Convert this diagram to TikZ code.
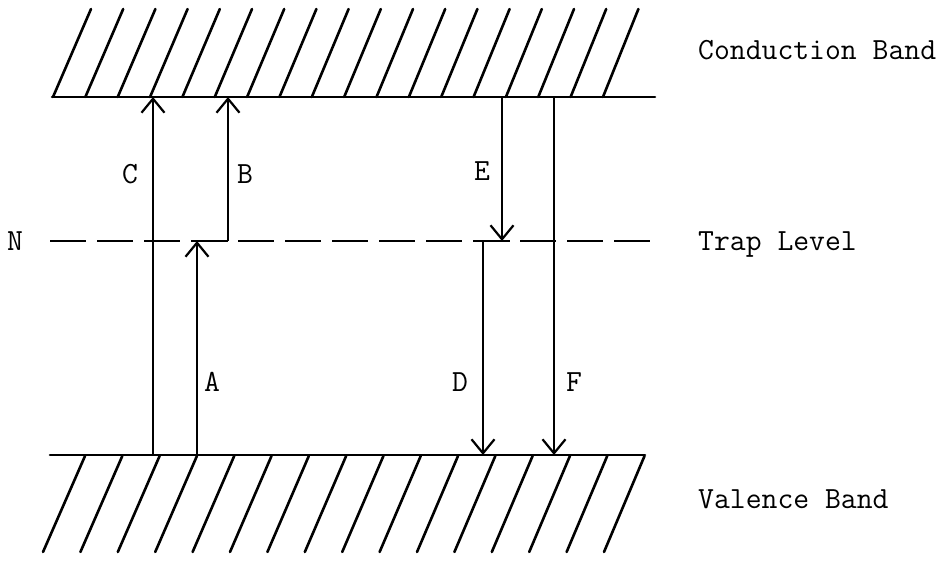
\documentclass[tikz,border=0pt]{standalone}
\usepackage{fontspec}
\usetikzlibrary{arrows.meta}
\newcommand{\twfont}{\ttfamily\fontsize{30.8}{34}\selectfont\addfontfeatures{FakeBold=0.6}}
\begin{document}
\begin{tikzpicture}[x=1pt,y=-1pt,
  band/.style={line width=2.6pt, line cap=round},
  hatch/.style={line width=2.6pt, line cap=round},
  trans/.style={line width=1.8pt, -{Straight Barb[length=14pt,width=23pt,line width=2.2pt]}},
  trapline/.style={line width=2.6pt, dash pattern=on 36pt off 11pt},
  lbl/.style={font=\twfont, inner sep=0pt, anchor=base west},
  letter/.style={font=\twfont, inner sep=0pt, anchor=base},
]
\useasboundingbox (0,0) rectangle (950,560);
% band edges
\coordinate (cbL) at (52,97);  \coordinate (cbR) at (655,97);
\coordinate (tpL) at (50,241); \coordinate (tpR) at (650,241);
\coordinate (vbL) at (50,455); \coordinate (vbR) at (645,455);
\draw[band] (cbL) -- (cbR);
\draw[band] (vbL) -- (vbR);
\draw[trapline] (tpL) -- (tpR);
% hatching
\foreach \i in {0,...,17} {
  \draw[hatch] ({53+32.35*\i},97) -- ({91+32.2*\i},9);
}
\foreach \i in {0,...,15} {
  \draw[hatch] ({85+37.3*\i},456) -- ({43+37.4*\i},552);
}
% transition end points
\coordinate (cBot) at (153,455); \coordinate (cTop) at (153,97);
\coordinate (aBot) at (197,455); \coordinate (aTop) at (197,241);
\coordinate (bL) at (193,241);   \coordinate (bFoot) at (228,241); \coordinate (bTop) at (228,97);
\coordinate (eTop) at (502,97);  \coordinate (eBot) at (502,241); \coordinate (eR) at (510,241);
\coordinate (dL) at (473,241);   \coordinate (dTop) at (483,241); \coordinate (dBot) at (483,455);
\coordinate (fTop) at (554,97);  \coordinate (fBot) at (554,455);
% solid pieces on trap level
\draw[line width=2.6pt] (bL) -- (bFoot);
\draw[line width=2.6pt] (dL) -- (eR);
% transitions
\draw[trans] (cBot) -- (cTop);
\draw[trans] (aBot) -- (aTop);
\draw[trans] (bFoot) -- (bTop);
\draw[trans] (eTop) -- (eBot);
\draw[trans] (dTop) -- (dBot);
\draw[trans] (fTop) -- (fBot);
% labels
\node[letter] (lC) at (130,183) {C};
\node[letter] (lB) at (245,183) {B};
\node[letter] (lE) at (482,180) {E};
\node[letter] (lN) at (15,250) {N};
\node[letter] (lA) at (212,391) {A};
\node[letter] (lD) at (460,391) {D};
\node[letter] (lF) at (574,391) {F};
\node[lbl] (cond) at (698,59) {Conduction Band};
\node[lbl] (trap) at (698,250) {Trap Level};
\node[lbl] (val)  at (698,508) {Valence Band};
\end{tikzpicture}
\end{document}
